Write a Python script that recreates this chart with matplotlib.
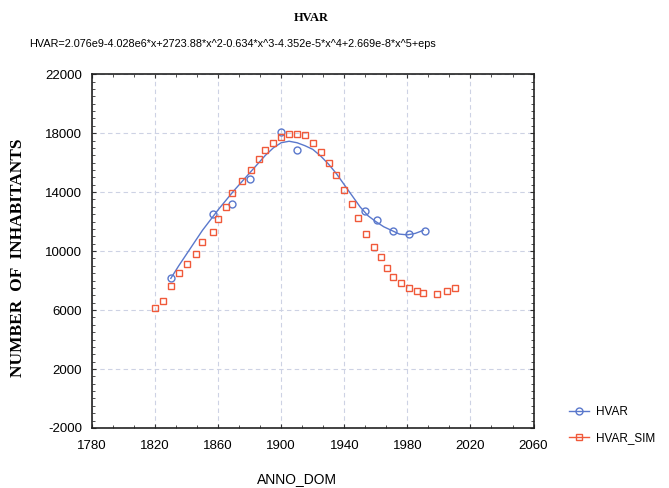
import numpy as np
import matplotlib.pyplot as plt
from matplotlib.ticker import MultipleLocator
from matplotlib.lines import Line2D

plt.rcParams['axes.unicode_minus'] = False

# observed census values (HVAR)
hvar_years = [1830, 1857, 1869, 1880, 1900, 1910, 1953, 1961, 1971, 1981, 1991]
hvar_vals = [8170, 12500, 13190, 14880, 18070, 16850, 12710, 12100, 11360, 11150, 11360]

# fitted curve
fit_years = [1830, 1835, 1840, 1845, 1850, 1855, 1860, 1865, 1870, 1875, 1880, 1885,
             1890, 1895, 1900, 1905, 1910, 1915, 1920, 1925, 1930, 1935, 1940, 1945,
             1950, 1955, 1960, 1965, 1970, 1975, 1980, 1985, 1990]
fit_vals = [8150, 9000, 9800, 10600, 11400, 12100, 12800, 13450, 14100, 14700, 15300, 15900,
            16500, 17000, 17350, 17450, 17350, 17150, 16900, 16450, 15900, 15250, 14500, 13750,
            13000, 12400, 12000, 11650, 11400, 11150, 11100, 11200, 11400]

# simulated series (HVAR_SIM)
sim_years = [1820, 1825, 1830, 1835, 1840, 1846, 1850, 1857, 1860, 1865, 1869, 1875, 1881,
             1886, 1890, 1895, 1900, 1905, 1910, 1915, 1920, 1925, 1930, 1935, 1940, 1945,
             1949, 1954, 1959, 1963, 1967, 1971, 1976, 1981, 1986, 1990, 1999, 2005, 2010]
sim_vals = [6130, 6610, 7630, 8510, 9120, 9800, 10610, 11290, 12170, 12980, 13930, 14750, 15490,
            16240, 16850, 17320, 17730, 17930, 17930, 17860, 17320, 16710, 15970, 15150, 14140, 13190,
            12240, 11150, 10270, 9590, 8850, 8240, 7830, 7490, 7290, 7150, 7080, 7290, 7490]

blue = '#5a78cc'
red = '#f0593a'

fig = plt.figure(figsize=(6.69, 4.88), dpi=100)
ax = fig.add_axes([0.1375, 0.123, 0.66, 0.725])

ax.plot(fit_years, fit_vals, color=blue, lw=1.0)
ax.plot(hvar_years, hvar_vals, ls='none', marker='o', ms=5, mfc='none', mec=blue, mew=1.0)
ax.plot(sim_years, sim_vals, ls='none', marker='s', ms=5, mfc='none', mec=red, mew=1.0)

ax.set_xlim(1780, 2060)
ax.set_ylim(-2000, 22000)
ax.xaxis.set_major_locator(MultipleLocator(40, offset=20))
ax.xaxis.set_minor_locator(MultipleLocator(40 / 3, offset=20))
ax.yaxis.set_major_locator(MultipleLocator(4000, offset=2000))
ax.yaxis.set_minor_locator(MultipleLocator(500))
ax.tick_params(which='both', direction='in', top=True, right=True, color='#333333')
ax.tick_params(which='major', length=3, labelsize=9.5)
ax.tick_params(which='minor', length=2)
ax.tick_params(axis='x', which='major', pad=9)
ax.tick_params(axis='y', which='major', pad=7)
for lab in ax.get_xticklabels() + ax.get_yticklabels():
    lab.set_family('Liberation Sans')
ax.grid(True, which='major', color='#cdd2e4', ls=(0, (4, 3)), lw=0.8)
for s in ax.spines.values():
    s.set_linewidth(1.2)
    s.set_color('#222222')

fig.text(0.465, 0.963, 'HVAR', ha='center', va='center',
         family='Liberation Serif', weight='bold', fontsize=9)
fig.text(0.044, 0.91,
         'HVAR=2.076e9-4.028e6*x+2723.88*x^2-0.634*x^3-4.352e-5*x^4+2.669e-8*x^5+eps',
         ha='left', va='center', family='Liberation Sans', fontsize=7.8)
ax.set_ylabel('NUMBER  OF  INHABITANTS', family='Liberation Serif', weight='bold',
              fontsize=12.5)
ax.yaxis.set_label_coords(-0.15, 0.48)
ax.set_xlabel('ANNO_DOM', family='Liberation Sans', fontsize=10)
ax.xaxis.set_label_coords(0.465, -0.125)

handles = [Line2D([], [], color=blue, lw=1, marker='o', ms=5, mfc='none'),
           Line2D([], [], color=red, lw=1, marker='s', ms=5, mfc='none')]
fig.legend(handles, ['HVAR', 'HVAR_SIM'], loc='upper left', bbox_to_anchor=(0.835, 0.19),
           frameon=False, prop={'family': 'Liberation Sans', 'size': 8.5},
           handlelength=1.7, handletextpad=0.6, labelspacing=1.2)

plt.savefig('out.png', dpi=100)
